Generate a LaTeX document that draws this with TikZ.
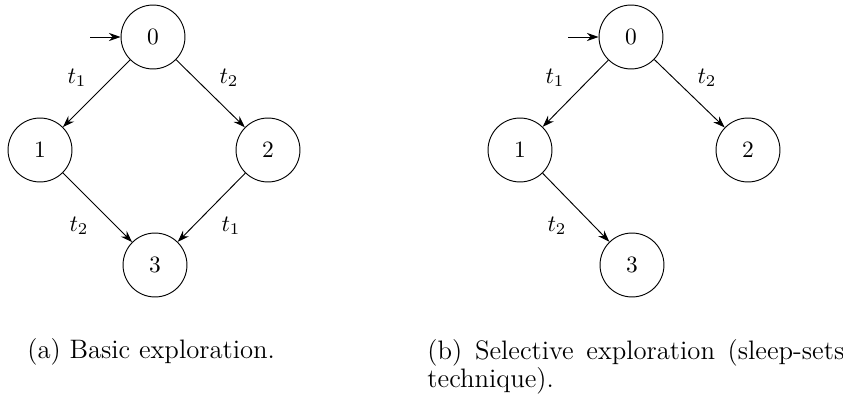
\documentclass[tikz,border=0pt]{standalone}
\usetikzlibrary{arrows.meta}
\begin{document}
\begin{tikzpicture}[x=0.427pt,y=-0.427pt,
  state/.style={circle,draw,minimum size=27.3pt,inner sep=0pt},
  edge/.style={-{Stealth[length=5pt,width=3.5pt]},line width=0.4pt},
  lab/.style={inner sep=0pt},
  capt/.style={inner sep=0pt,font=\fontsize{11.4}{12}\selectfont}]
\useasboundingbox (0,0) rectangle (843,398);
% left
\node[state] (a0) at (153,37) {0};
\node[state] (a1) at (40,150) {1};
\node[state] (a2) at (268,150) {2};
\node[state] (a3) at (155,265) {3};
\coordinate (ai) at (90,37);
\draw[edge] (ai) -- (a0);
\draw[edge] (a0) -- (a1);
\draw[edge] (a0) -- (a2);
\draw[edge] (a1) -- (a3);
\draw[edge] (a2) -- (a3);
\node[lab] (la1) at (77,78) {$t_1$};
\node[lab] (la2) at (229,78) {$t_2$};
\node[lab] (la3) at (79,226) {$t_2$};
\node[lab] (la4) at (231,226) {$t_1$};
\node[capt,anchor=base west] (ca) at (27,359) {(a) Basic exploration.};
% right
\node[state] (b0) at (631,37) {0};
\node[state] (b1) at (520,150) {1};
\node[state] (b2) at (748,150) {2};
\node[state] (b3) at (632,265) {3};
\coordinate (bi) at (568,37);
\draw[edge] (bi) -- (b0);
\draw[edge] (b0) -- (b1);
\draw[edge] (b0) -- (b2);
\draw[edge] (b1) -- (b3);
\node[lab] (lb1) at (555,78) {$t_1$};
\node[lab] (lb2) at (707,78) {$t_2$};
\node[lab] (lb3) at (557,226) {$t_2$};
\node[capt,anchor=north west,text width=178pt,align=justify] (cb) at (427,339) {\hyphenpenalty=10000 (b) Selective exploration (sleep-sets\linebreak technique).};
\end{tikzpicture}
\end{document}
